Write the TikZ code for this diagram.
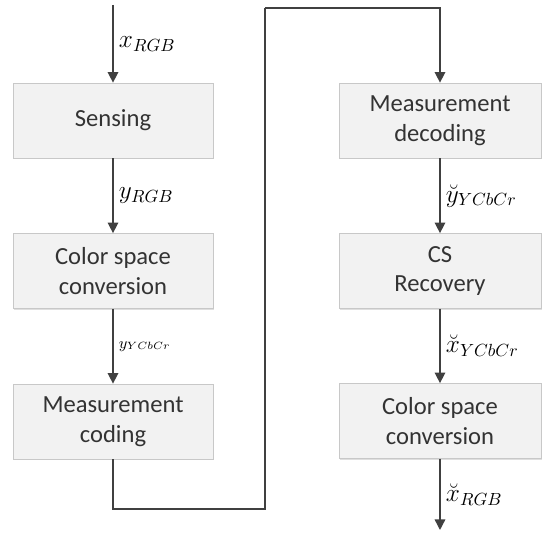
\documentclass[tikz,border=0pt]{standalone}
\usepackage{amsmath}
\usepackage{fontspec}
\setmainfont{Carlito}
\usepackage{tikz}
\usetikzlibrary{calc}
\usetikzlibrary{arrows.meta}
\usetikzlibrary{shadows}
\definecolor{boxfill}{RGB}{242,242,242}
\definecolor{boxline}{RGB}{200,200,200}
\definecolor{flowline}{RGB}{64,64,64}
\definecolor{boxtext}{RGB}{51,51,51}
\tikzset{
	block/.style={draw=boxline, fill=boxfill, minimum width=4cm, minimum height=1.5cm, align=center, text=boxtext, font=\fontsize{14}{17}\selectfont, drop shadow={opacity=0.25, shadow xshift=0.6pt, shadow yshift=-0.8pt}},
	flow/.style={draw=flowline, line width=0.8pt, -{Triangle[length=6pt,width=6pt]}},
	wire/.style={draw=flowline, line width=0.8pt},
	sig/.style={right, font=\fontsize{14}{17}\selectfont, inner sep=3pt}
}
\begin{document}
\begin{tikzpicture}
		\useasboundingbox (0,0) rectangle (10.84,10.74);
		\fill[white] (0,0) rectangle (10.84,10.74);
		
		\node[block] (sensing) at (2.26,8.33) {Sensing};
		\node[block] (cscA) at (2.26,5.32) {Color space\\conversion};
		\node[block] (mcoding) at (2.26,2.31) {Measurement\\coding};
		
		\node[block, minimum width=4.04cm] (mdecoding) at (8.8,8.33) {Measurement\\decoding};
		\node[block, minimum width=4.04cm] (csrec) at (8.8,5.32) {CS\\Recovery};
		\node[block, minimum width=4.04cm] (cscB) at (8.8,2.32) {Color space\\conversion};
		
		\coordinate (in) at (2.26,10.64);
		\coordinate (low) at (5.3,0.56);
		\coordinate (high) at (5.3,10.58);
		\coordinate (out) at (8.8,0.14);
		
		\draw[flow] (in) -- node[sig] {$x_{RGB}$} (sensing);
		\draw[flow] (sensing) -- node[sig] {$y_{RGB}$} (cscA);
		\draw[flow] (cscA) -- node[sig, font=\fontsize{9}{11}\selectfont] {$y_{YCbCr}$} (mcoding);
		\draw[wire] (mcoding.south) |- (low) -- (high);
		\draw[flow] (high) -| (mdecoding.north);
		\draw[flow] (mdecoding) -- node[sig] {$\breve{y}_{YCbCr}$} (csrec);
		\draw[flow] (csrec) -- node[sig] {$\breve{x}_{YCbCr}$} (cscB);
		\draw[flow] (cscB) -- node[sig] {$\breve{x}_{RGB}$} (out);
	\end{tikzpicture}
\end{document}
